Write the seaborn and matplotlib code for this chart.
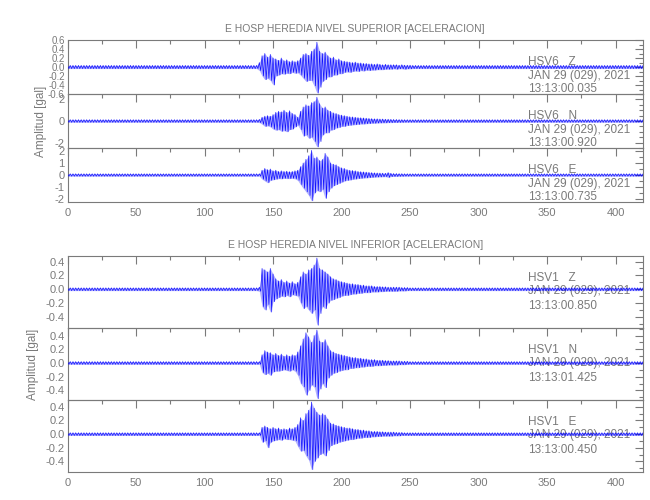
import numpy as np
import pandas as pd
import matplotlib
matplotlib.use("Agg")
import matplotlib.pyplot as plt
from matplotlib.ticker import MultipleLocator, FormatStrFormatter
import seaborn as sns

sns.set_theme(style="white")
plt.rcParams["font.family"] = ["Liberation Sans", "DejaVu Sans"]
plt.rcParams["font.size"] = 8

GRAY = "#7a7a7a"
BLUE = "#0000ff"

# envelope of each record (max / min per 2 s bin), event window 140-250 s
EVENT_START = 140
BIN = 2

HSV6_Z_UP = [0.10, 0.25, 0.30, 0.22, 0.28, 0.20, 0.18, 0.15, 0.20, 0.14,
             0.16, 0.12, 0.14, 0.12, 0.14, 0.20, 0.28, 0.30, 0.26, 0.35,
             0.40, 0.55, 0.35, 0.30, 0.33, 0.25, 0.20, 0.22, 0.16, 0.18,
             0.14, 0.13, 0.12, 0.11, 0.10, 0.11, 0.09, 0.09, 0.08, 0.08,
             0.07, 0.07, 0.06, 0.07, 0.06, 0.05, 0.06, 0.05, 0.05, 0.05,
             0.05, 0.04, 0.05, 0.04, 0.04, 0.04]
HSV6_Z_LO = [-0.08, -0.20, -0.28, -0.25, -0.30, -0.40, -0.20, -0.18, -0.15, -0.16,
             -0.14, -0.15, -0.12, -0.14, -0.13, -0.18, -0.25, -0.32, -0.30, -0.30,
             -0.42, -0.58, -0.45, -0.32, -0.28, -0.22, -0.22, -0.18, -0.18, -0.15,
             -0.15, -0.12, -0.11, -0.12, -0.10, -0.09, -0.10, -0.08, -0.09, -0.07,
             -0.08, -0.07, -0.07, -0.06, -0.06, -0.06, -0.05, -0.05, -0.05, -0.04,
             -0.05, -0.04, -0.04, -0.05, -0.04, -0.04]

HSV6_N_UP = [0.15, 0.35, 0.45, 0.50, 0.45, 0.60, 0.80, 0.90, 0.85, 1.00,
             0.80, 0.95, 0.70, 0.60, 0.35, 0.90, 1.30, 1.50, 1.40, 1.70,
             1.80, 2.20, 1.60, 1.20, 1.30, 1.00, 0.90, 0.75, 0.70, 0.60,
             0.55, 0.50, 0.45, 0.40, 0.38, 0.35, 0.32, 0.30, 0.28, 0.26,
             0.24, 0.22, 0.20, 0.20, 0.18, 0.18, 0.16, 0.16, 0.15, 0.14,
             0.14, 0.13, 0.13, 0.12, 0.12, 0.12]
HSV6_N_LO = [-0.15, -0.30, -0.50, -0.45, -0.55, -0.75, -0.85, -0.80, -0.95, -0.90,
             -1.00, -0.80, -0.75, -0.55, -0.40, -0.80, -1.40, -1.30, -1.60, -1.50,
             -1.90, -2.40, -1.90, -1.30, -1.10, -1.10, -0.85, -0.80, -0.65, -0.60,
             -0.50, -0.50, -0.42, -0.40, -0.36, -0.34, -0.32, -0.28, -0.28, -0.25,
             -0.24, -0.21, -0.21, -0.19, -0.18, -0.17, -0.17, -0.15, -0.15, -0.14,
             -0.14, -0.13, -0.13, -0.12, -0.12, -0.12]

HSV6_E_UP = [0.10, 0.40, 0.55, 0.45, 0.50, 0.35, 0.40, 0.30, 0.35, 0.30,
             0.32, 0.28, 0.30, 0.35, 0.40, 0.70, 1.00, 1.30, 1.60, 2.05,
             1.40, 1.50, 1.20, 1.30, 1.80, 1.50, 1.00, 0.90, 0.85, 0.70,
             0.60, 0.55, 0.45, 0.40, 0.38, 0.35, 0.30, 0.28, 0.26, 0.24,
             0.22, 0.20, 0.18, 0.17, 0.16, 0.15, 0.14, 0.20, 0.14, 0.12,
             0.12, 0.11, 0.11, 0.10, 0.10, 0.10]
HSV6_E_LO = [-0.10, -0.35, -0.50, -0.65, -0.45, -0.40, -0.35, -0.30, -0.32, -0.28,
             -0.30, -0.30, -0.28, -0.32, -0.45, -0.80, -1.10, -1.40, -1.70, -2.15,
             -1.50, -1.30, -1.40, -1.20, -1.95, -1.40, -1.10, -0.90, -0.80, -0.70,
             -0.60, -0.50, -0.45, -0.42, -0.36, -0.34, -0.30, -0.28, -0.25, -0.24,
             -0.22, -0.20, -0.18, -0.17, -0.16, -0.15, -0.14, -0.20, -0.13, -0.12,
             -0.12, -0.11, -0.11, -0.10, -0.10, -0.10]

HSV1_Z_UP = [0.03, 0.30, 0.28, 0.25, 0.30, 0.22, 0.15, 0.12, 0.14, 0.10,
             0.12, 0.09, 0.11, 0.08, 0.10, 0.18, 0.25, 0.22, 0.28, 0.30,
             0.35, 0.45, 0.30, 0.28, 0.25, 0.22, 0.18, 0.15, 0.14, 0.12,
             0.11, 0.10, 0.09, 0.08, 0.08, 0.07, 0.07, 0.06, 0.06, 0.05,
             0.05, 0.05, 0.04, 0.04, 0.04, 0.035, 0.035, 0.03, 0.03, 0.03,
             0.03, 0.03, 0.025, 0.025, 0.025, 0.02]
HSV1_Z_LO = [-0.03, -0.25, -0.30, -0.22, -0.33, -0.18, -0.14, -0.12, -0.10, -0.11,
             -0.09, -0.11, -0.08, -0.09, -0.10, -0.20, -0.28, -0.25, -0.30, -0.35,
             -0.30, -0.52, -0.35, -0.25, -0.28, -0.20, -0.16, -0.15, -0.13, -0.12,
             -0.10, -0.09, -0.09, -0.08, -0.07, -0.07, -0.06, -0.06, -0.05, -0.05,
             -0.05, -0.04, -0.04, -0.04, -0.035, -0.035, -0.03, -0.03, -0.03, -0.03,
             -0.03, -0.025, -0.025, -0.025, -0.02, -0.02]

HSV1_N_UP = [0.02, 0.12, 0.18, 0.16, 0.15, 0.12, 0.14, 0.11, 0.13, 0.10,
             0.12, 0.10, 0.12, 0.11, 0.16, 0.25, 0.35, 0.44, 0.38, 0.30,
             0.40, 0.48, 0.32, 0.30, 0.34, 0.25, 0.18, 0.16, 0.14, 0.13,
             0.12, 0.11, 0.10, 0.09, 0.08, 0.08, 0.07, 0.07, 0.06, 0.06,
             0.05, 0.05, 0.05, 0.04, 0.04, 0.04, 0.035, 0.035, 0.03, 0.03,
             0.03, 0.03, 0.025, 0.025, 0.025, 0.02]
HSV1_N_LO = [-0.02, -0.14, -0.17, -0.15, -0.18, -0.13, -0.12, -0.12, -0.11, -0.10,
             -0.11, -0.12, -0.10, -0.12, -0.18, -0.30, -0.35, -0.47, -0.40, -0.32,
             -0.35, -0.52, -0.38, -0.30, -0.36, -0.22, -0.18, -0.15, -0.14, -0.12,
             -0.11, -0.10, -0.10, -0.08, -0.08, -0.07, -0.07, -0.06, -0.06, -0.05,
             -0.05, -0.05, -0.04, -0.04, -0.04, -0.035, -0.035, -0.03, -0.03, -0.03,
             -0.03, -0.025, -0.025, -0.025, -0.02, -0.02]

HSV1_E_UP = [0.02, 0.10, 0.12, 0.10, 0.08, 0.10, 0.08, 0.09, 0.07, 0.08,
             0.07, 0.09, 0.08, 0.10, 0.14, 0.24, 0.20, 0.30, 0.35, 0.47,
             0.38, 0.32, 0.28, 0.30, 0.28, 0.22, 0.16, 0.15, 0.13, 0.12,
             0.11, 0.10, 0.09, 0.09, 0.08, 0.07, 0.07, 0.06, 0.06, 0.05,
             0.05, 0.04, 0.04, 0.04, 0.035, 0.035, 0.03, 0.03, 0.03, 0.03,
             0.025, 0.025, 0.025, 0.02, 0.02, 0.02]
HSV1_E_LO = [-0.02, -0.12, -0.10, -0.20, -0.12, -0.10, -0.09, -0.08, -0.09, -0.07,
             -0.08, -0.08, -0.09, -0.10, -0.18, -0.25, -0.24, -0.32, -0.38, -0.52,
             -0.40, -0.35, -0.30, -0.28, -0.32, -0.24, -0.17, -0.15, -0.14, -0.12,
             -0.11, -0.10, -0.09, -0.08, -0.08, -0.07, -0.06, -0.06, -0.05, -0.05,
             -0.05, -0.04, -0.04, -0.035, -0.035, -0.03, -0.03, -0.03, -0.03, -0.025,
             -0.025, -0.025, -0.02, -0.02, -0.02, -0.02]

# pre-event / coda noise level of each record
NOISE = [0.035, 0.12, 0.10, 0.02, 0.02, 0.02]

STATIONS = ["HSV6   Z", "HSV6   N", "HSV6   E", "HSV1   Z", "HSV1   N", "HSV1   E"]
DATES = ["JAN 29 (029), 2021"] * 6
START_TIMES = ["13:13:00.035", "13:13:00.920", "13:13:00.735",
               "13:13:00.850", "13:13:01.425", "13:13:00.450"]
TITLES = ["E HOSP HEREDIA NIVEL SUPERIOR [ACELERACION]",
          "E HOSP HEREDIA NIVEL INFERIOR [ACELERACION]"]

YLIMS = [(-0.6, 0.6), (-2.5, 2.5), (-2.25, 2.25),
         (-0.56, 0.48), (-0.54, 0.51), (-0.555, 0.50)]
Y_MAJOR = [0.2, 2, 1, 0.2, 0.2, 0.2]
Y_MINOR = [0.1, 0.5, 0.5, 0.1, 0.1, 0.1]
Y_FMT = ["%.1f", "%d", "%d", "%.1f", "%.1f", "%.1f"]

ENVELOPES = [(HSV6_Z_UP, HSV6_Z_LO), (HSV6_N_UP, HSV6_N_LO), (HSV6_E_UP, HSV6_E_LO),
             (HSV1_Z_UP, HSV1_Z_LO), (HSV1_N_UP, HSV1_N_LO), (HSV1_E_UP, HSV1_E_LO)]


def trace_frame(noise, upper, lower, t_end=420):
    """Min/max rendering of a trace: one up and one down point per bin."""
    t = np.arange(0, t_end + BIN, BIN)
    up = np.full(t.size, noise)
    lo = np.full(t.size, -noise)
    i0 = EVENT_START // BIN
    up[i0:i0 + len(upper)] = upper
    lo[i0:i0 + len(lower)] = lower
    env = pd.DataFrame({"time": t, "up": up, "lo": lo})
    x = np.column_stack([t, t + BIN / 2]).ravel()
    y = np.column_stack([up, lo]).ravel()
    return env, pd.DataFrame({"time": x, "amp": y})


fig = plt.figure(figsize=(6.5, 5), dpi=100)

left, width = 67.5 / 650, 575.5 / 650
# (top px, height px) of each panel
panels = [(40, 54), (94, 54), (148, 54), (256, 72), (328, 72), (400, 72)]
text_rows = [(0.59, 0.33, 0.09)] * 3 + [(0.70, 0.52, 0.31)] * 3

axes = []
for i, (top, h) in enumerate(panels):
    ax = fig.add_axes([left, 1 - (top + h) / 500, width, h / 500])
    axes.append(ax)
    env, df = trace_frame(NOISE[i], *ENVELOPES[i])
    ax.fill_between(env["time"], env["lo"], env["up"], color=BLUE,
                    alpha=0.3, lw=0, zorder=2)
    sns.lineplot(data=df, x="time", y="amp", sort=False, estimator=None,
                 color=BLUE, lw=0.5, alpha=0.9, ax=ax, zorder=3)
    ax.set_xlim(0, 420)
    ax.set_ylim(*YLIMS[i])
    ax.set_xlabel("")
    ax.set_ylabel("")
    ax.xaxis.set_major_locator(MultipleLocator(50))
    ax.xaxis.set_minor_locator(MultipleLocator(25))
    ax.yaxis.set_major_locator(MultipleLocator(Y_MAJOR[i]))
    ax.yaxis.set_minor_locator(MultipleLocator(Y_MINOR[i]))
    ax.yaxis.set_major_formatter(FormatStrFormatter(Y_FMT[i]))
    ax.tick_params(which="both", direction="in", top=True, right=True,
                   color=GRAY, labelcolor=GRAY, labelsize=8, pad=2)
    ax.tick_params(which="major", length=6, width=0.8)
    ax.tick_params(which="minor", length=3, width=0.8)
    ax.tick_params(axis="x", labelbottom=(i in (2, 5)), pad=4)
    if i == 0:
        ax.tick_params(axis="y", labelsize=7)
    for sp in ax.spines.values():
        sp.set_color(GRAY)
        sp.set_linewidth(0.8)
    ax.set_facecolor("none")
    ax.grid(False)

    for y, s in zip(text_rows[i], [STATIONS[i], DATES[i], START_TIMES[i]]):
        ax.text(0.80, y, s, transform=ax.transAxes, color=GRAY,
                fontsize=8.5, va="center", ha="left", zorder=1)

axes[0].set_title(TITLES[0], color=GRAY, fontsize=7.5, pad=6)
axes[3].set_title(TITLES[1], color=GRAY, fontsize=7.5, pad=6)

fig.text(41 / 650, 1 - 121 / 500, "Amplitud [gal]", rotation=90,
         color=GRAY, fontsize=8.5, ha="center", va="center")
fig.text(33 / 650, 1 - 364 / 500, "Amplitud [gal]", rotation=90,
         color=GRAY, fontsize=8.5, ha="center", va="center")

fig.savefig("out.png", dpi=100)
